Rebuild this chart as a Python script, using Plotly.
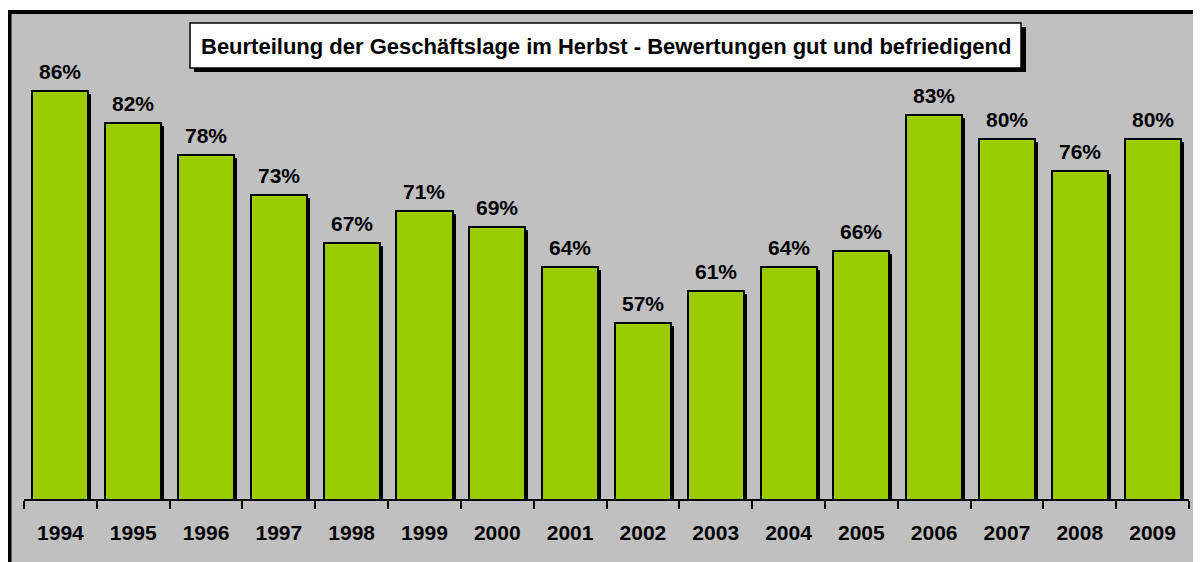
import plotly.graph_objects as go

years = ["1994", "1995", "1996", "1997", "1998", "1999", "2000", "2001",
         "2002", "2003", "2004", "2005", "2006", "2007", "2008", "2009"]
values = [86, 82, 78, 73, 67, 71, 69, 64, 57, 61, 64, 66, 83, 80, 76, 80]
labels = [f"{v}%" for v in values]
title_text = "Beurteilung der Geschäftslage im Herbst - Bewertungen gut und befriedigend"

# page body has an 8px margin; figure sized to fill the rest of the window
OFF = 8
W, H = 1193, 554
ML, MR, MT, MB = 16, 12, 6, 63
PW, PH = W - ML - MR, H - MT - MB
YMIN = 35
YMAX = YMIN + PH / 8.0

def px_x(px):
    return (px - OFF - ML) / PW

def px_y(py):
    return (H - MB - (py - OFF)) / PH

GREEN = "#99CC00"
GRAY = "#C0C0C0"
FONT = "Liberation Sans, Arial, sans-serif"

bar_w = 0.77
shadow_dx = 3.0 / (PW / len(years))
shadow_dy = 3.0 / 8.0

fig = go.Figure()
fig.add_trace(go.Bar(
    x=years, y=[v - shadow_dy for v in values],
    width=bar_w, offset=-bar_w / 2 + shadow_dx,
    marker=dict(color="black", line=dict(width=0)),
    hoverinfo="skip", showlegend=False,
))
fig.add_trace(go.Bar(
    x=years, y=values,
    width=bar_w, offset=-bar_w / 2,
    marker=dict(color=GREEN, line=dict(color="black", width=2)),
    showlegend=False,
))

for i, (v, t) in enumerate(zip(values, labels)):
    fig.add_annotation(x=i, y=v, text=t, showarrow=False, yanchor="bottom",
                       yshift=6, font=dict(family=FONT, size=21, color="black", weight="bold"))

shapes = [
    # outer frame
    dict(type="rect", xref="paper", yref="paper", layer="below",
         x0=px_x(9.5), x1=px_x(1240), y0=px_y(640), y1=px_y(12),
         line=dict(color="black", width=4), fillcolor=GRAY),
    # title shadow
    dict(type="rect", xref="paper", yref="paper", layer="above",
         x0=px_x(194), x1=px_x(1026), y0=px_y(72), y1=px_y(27),
         line=dict(width=0), fillcolor="black"),
    # title box
    dict(type="rect", xref="paper", yref="paper", layer="above",
         x0=px_x(190), x1=px_x(1021), y0=px_y(68), y1=px_y(23),
         line=dict(color="black", width=1.5), fillcolor="white"),
]

fig.add_annotation(xref="paper", yref="paper", x=px_x(605.5), y=px_y(46.5),
                   text=title_text, showarrow=False, xanchor="center", yanchor="middle",
                   font=dict(family=FONT, size=22, color="black", weight="bold"))

fig.update_layout(
    width=W, height=H,
    margin=dict(l=ML, r=MR, t=MT, b=MB, pad=0),
    paper_bgcolor="white", plot_bgcolor=GRAY,
    barmode="overlay", bargap=0,
    shapes=shapes,
    xaxis=dict(type="category", range=[-0.5, len(years) - 0.5], autorange=False,
               showline=True, linecolor="black", linewidth=2,
               ticks="outside", tickson="boundaries", ticklen=8, tickwidth=2,
               tickcolor="black", showgrid=False, zeroline=False,
               ticklabelstandoff=14, tickangle=0,
               tickfont=dict(family=FONT, size=21, color="black", weight="bold")),
    yaxis=dict(range=[YMIN, YMAX], visible=False, showgrid=False, zeroline=False),
)

fig.write_html("out.html")
